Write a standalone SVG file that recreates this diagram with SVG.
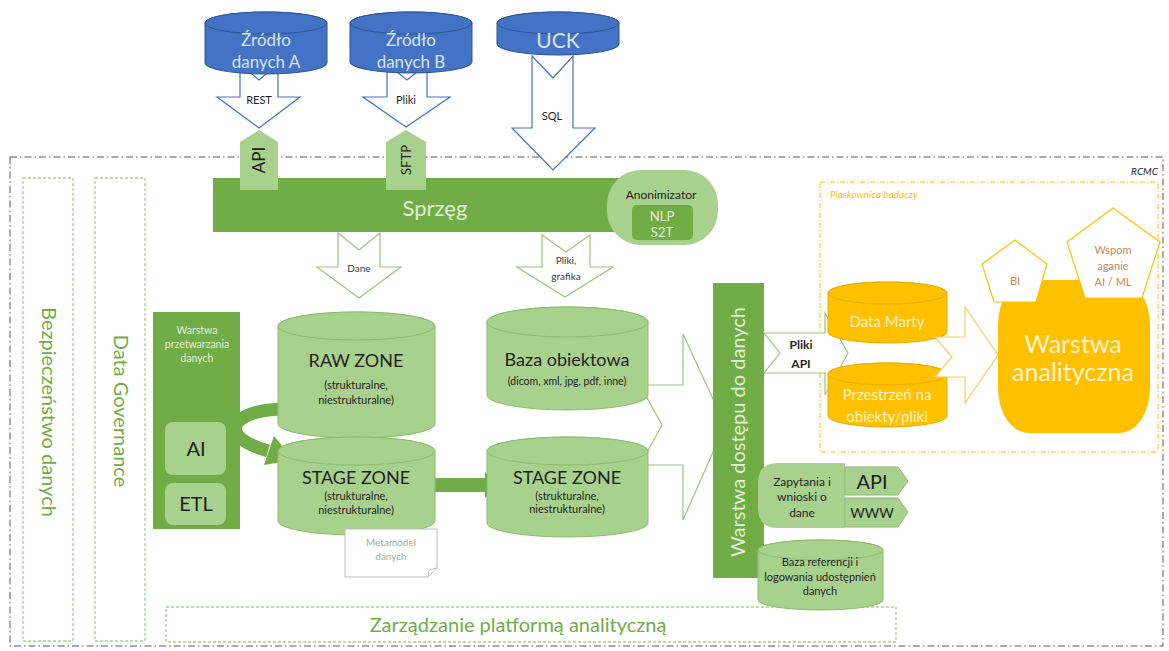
<svg xmlns="http://www.w3.org/2000/svg" width="1169" height="651" viewBox="0 0 1169 651">
<style>
text{font-family:Lato,"Open Sans","Liberation Sans",sans-serif;text-anchor:middle}
.blue{fill:#4472C4;stroke:#2F5597;stroke-width:1}
.btxt{fill:#DAE3F3;font-size:17px}
.lg{fill:#A9D18E;stroke:#8DBB6C;stroke-width:1}
.dg{fill:#70AD47}
.yel{fill:#FFC000;stroke:#E8AE00;stroke-width:1}
.ytxt{fill:#FFF2CC}
.dark{fill:#1F1F1F}
.barrow{fill:#fff;stroke:#4472C4;stroke-width:1.2}
.garrow{fill:#fff;stroke:#9CC47F;stroke-width:1.2}
.yarrow{fill:#fff;stroke:#F2CF66;stroke-width:1.2}
.gdash{fill:none;stroke:#A9D18E;stroke-width:1.3;stroke-dasharray:3 2}
.gtxt{fill:#70AD47}
.pent{fill:#fff;stroke:#FFC000;stroke-width:1.2}
.otxt{fill:#C9875A;font-size:11px}
</style>

<g id="rcmc-border">
<rect x="10" y="157" width="1153" height="489" fill="none" stroke="#595959" stroke-width="1" stroke-dasharray="7 3 1.5 3"/>
<text x="1158" y="175" style="text-anchor:end;font-size:10px;font-style:italic" fill="#262626">RCMC</text>
</g>

<g id="bezpieczenstwo">
<rect class="gdash" x="23" y="178" width="50" height="463"/>
<text class="gtxt" transform="translate(42,412) rotate(90)" style="font-size:20px">Bezpieczeństwo danych</text>
</g>
<g id="data-governance">
<rect class="gdash" x="95" y="178" width="50" height="463"/>
<text class="gtxt" transform="translate(114,411) rotate(90)" style="font-size:20px">Data Governance</text>
</g>
<g id="zarzadzanie">
<rect class="gdash" x="166" y="607" width="730" height="35"/>
<text class="gtxt" x="518" y="632" style="font-size:20px">Zarządzanie platformą analityczną</text>
</g>

<g id="piaskownica">
<rect x="820" y="182" width="338" height="270" fill="none" stroke="#FFC000" stroke-width="1" stroke-dasharray="5 2 1 2"/>
<text x="830" y="198" style="text-anchor:start;font-size:10px;font-style:italic" fill="#FFC000">Piaskownica badaczy</text>
</g>

<g id="connectors">
<polygon class="barrow" points="240,64 259,80 278,64 278,97 300,97 259,128 217,97 240,97"/>
<text class="dark" x="259" y="104" style="font-size:11px">REST</text>
<polygon class="barrow" points="387,64 407,80 427,64 427,97 450,97 406,127 363,97 387,97"/>
<text class="dark" x="406" y="104" style="font-size:11px">Pliki</text>
<polygon class="barrow" points="532,56 553,78 573,56 573,128 595,128 553,170 512,128 532,128"/>
<text class="dark" x="552" y="120" style="font-size:11px">SQL</text>
<polygon class="garrow" points="338,233 359,250 380,233 380,267 401,267 359,298 317,267 338,267"/>
<text fill="#404040" x="359" y="272" style="font-size:10px">Dane</text>
<polygon class="garrow" points="542,235 566,252 590,235 590,267 613,267 565,297 517,267 542,267"/>
<text fill="#404040" x="566" y="264" style="font-size:10px">Pliki,</text>
<text fill="#404040" x="566" y="280" style="font-size:10px">grafika</text>
<polygon class="garrow" points="640,385 683,385 683,334 725,425 683,520 683,465 640,465 662,425"/>
<polygon class="garrow" points="764,333 825,333 825,313 848,353 825,395 825,373 764,373 780,353"/>
<text fill="#262626" x="801" y="349" style="font-size:12px;font-weight:700">Pliki</text>
<text fill="#262626" x="801" y="368" style="font-size:12px;font-weight:700">API</text>
<path d="M292,409 C236,407 210,434 268,451" fill="none" stroke="#70AD47" stroke-width="13"/>
<polygon class="dg" points="294,460 264,465 274,436"/>
<rect class="dg" x="433" y="478" width="53" height="14"/>
<polygon class="dg" points="485,472 498,485 485,498"/>
</g>

<g id="src-a">
<path class="blue" d="M205,23 A61,11 0 0 1 327,23 V63 A61,11 0 0 1 205,63 Z"/>
<ellipse class="blue" cx="266" cy="23" rx="61" ry="11"/>
<text class="btxt" x="266" y="46">Źródło</text>
<text class="btxt" x="266" y="68">danych A</text>
</g>
<g id="src-b">
<path class="blue" d="M350,23 A61,11 0 0 1 472,23 V62 A61,11 0 0 1 350,62 Z"/>
<ellipse class="blue" cx="411" cy="23" rx="61" ry="11"/>
<text class="btxt" x="411" y="46">Źródło</text>
<text class="btxt" x="411" y="68">danych B</text>
</g>
<g id="uck">
<path class="blue" d="M497,23 A61,11 0 0 1 619,23 V44 A61,11 0 0 1 497,44 Z"/>
<ellipse class="blue" cx="558" cy="23" rx="61" ry="11"/>
<text class="btxt" x="558" y="48" style="font-size:21px">UCK</text>
</g>

<g id="sprzeg">
<rect class="dg" x="213" y="178" width="412" height="54"/>
<text x="435" y="216" style="font-size:22px" fill="#E2EFDA">Sprzęg</text>
</g>
<g id="api-tag">
<polygon class="lg" points="259,130 278,142 278,190 240,190 240,142" style="stroke:none"/>
<text class="dark" transform="translate(265,160) rotate(-90)" style="font-size:17px">API</text>
</g>
<g id="sftp-tag">
<polygon class="lg" points="406,130 426,142 426,190 386,190 386,142" style="stroke:none"/>
<text class="dark" transform="translate(411,160) rotate(-90)" style="font-size:13px">SFTP</text>
</g>
<g id="anonimizator">
<rect class="lg" x="607" y="170" width="111" height="75" rx="34" ry="34" style="stroke:none"/>
<text class="dark" x="661" y="199" style="font-size:12px">Anonimizator</text>
<rect class="dg" x="632" y="205" width="61" height="35" rx="5"/>
<text x="662" y="221" style="font-size:13px" fill="#E2EFDA">NLP</text>
<text x="662" y="237" style="font-size:13px" fill="#E2EFDA">S2T</text>
</g>

<g id="warstwa-przetwarzania">
<rect class="dg" x="153" y="312" width="87" height="217"/>
<text x="197" y="334" style="font-size:10.5px" fill="#E2EFDA">Warstwa</text>
<text x="197" y="348" style="font-size:10.5px" fill="#E2EFDA">przetwarzania</text>
<text x="197" y="362" style="font-size:10.5px" fill="#E2EFDA">danych</text>
</g>
<g id="ai">
<rect class="lg" x="165" y="422" width="61" height="53" rx="8" style="stroke:none"/>
<text class="dark" x="196" y="456" style="font-size:20px">AI</text>
</g>
<g id="etl">
<rect class="lg" x="165" y="483" width="61" height="42" rx="8" style="stroke:none"/>
<text class="dark" x="196" y="511" style="font-size:20px">ETL</text>
</g>

<g id="raw-zone">
<path class="lg" d="M278,326 A78.5,14 0 0 1 435,326 V424 A78.5,14 0 0 1 278,424 Z"/>
<ellipse class="lg" cx="356.5" cy="326" rx="78.5" ry="14"/>
<text class="dark" x="356" y="367" style="font-size:18px">RAW ZONE</text>
<text class="dark" x="356" y="389" style="font-size:11px">(strukturalne,</text>
<text class="dark" x="356" y="404" style="font-size:11px">niestrukturalne)</text>
</g>
<g id="stage-zone-1">
<path class="lg" d="M278,451 A78.5,14 0 0 1 435,451 V521 A78.5,14 0 0 1 278,521 Z"/>
<ellipse class="lg" cx="356.5" cy="451" rx="78.5" ry="14"/>
<text class="dark" x="356" y="484" style="font-size:18px">STAGE ZONE</text>
<text class="dark" x="356" y="500" style="font-size:11px">(strukturalne,</text>
<text class="dark" x="356" y="514" style="font-size:11px">niestrukturalne)</text>
</g>
<g id="metamodel">
<path d="M345,529 H437 V568 L428,577 H345 Z" fill="#fff" stroke="#BFBFBF" stroke-width="1"/>
<path d="M437,568 L429,570 L428,577" fill="none" stroke="#BFBFBF" stroke-width="1"/>
<text x="391" y="546" style="font-size:10px" fill="#9DB58C">Metamodel</text>
<text x="391" y="560" style="font-size:10px" fill="#9DB58C">danych</text>
</g>
<g id="baza-obiektowa">
<path class="lg" d="M487,322 A80.5,15 0 0 1 648,322 V395 A80.5,15 0 0 1 487,395 Z"/>
<ellipse class="lg" cx="567.5" cy="322" rx="80.5" ry="15"/>
<text class="dark" x="567" y="366" style="font-size:18px">Baza obiektowa</text>
<text class="dark" x="567" y="385" style="font-size:10.5px">(dicom, xml, jpg, pdf, inne)</text>
</g>
<g id="stage-zone-2">
<path class="lg" d="M487,451 A80.5,14 0 0 1 648,451 V523 A80.5,14 0 0 1 487,523 Z"/>
<ellipse class="lg" cx="567.5" cy="451" rx="80.5" ry="14"/>
<text class="dark" x="567" y="484" style="font-size:18px">STAGE ZONE</text>
<text class="dark" x="567" y="500" style="font-size:11px">(strukturalne,</text>
<text class="dark" x="567" y="513" style="font-size:11px">niestrukturalne)</text>
</g>

<g id="warstwa-dostepu">
<rect class="dg" x="713" y="283" width="51" height="295"/>
<text transform="translate(745,432) rotate(-90)" style="font-size:20px" fill="#E2EFDA">Warstwa dostępu do danych</text>
</g>

<g id="zapytania">
<path class="lg" d="M778,463 H845 V528 H778 Q758,528 758,508 V483 Q758,463 778,463 Z" style="stroke:none"/>
<text class="dark" x="802" y="486" style="font-size:12px">Zapytania i</text>
<text class="dark" x="802" y="501" style="font-size:12px">wnioski o</text>
<text class="dark" x="802" y="517" style="font-size:12px">dane</text>
</g>
<g id="api-out">
<polygon class="lg" points="845,467 898,467 908,481 898,495 845,495"/>
<text class="dark" x="872" y="489" style="font-size:20px">API</text>
</g>
<g id="www-out">
<polygon class="lg" points="845,498 898,498 908,512 898,527 845,527"/>
<text class="dark" x="872" y="518" style="font-size:14px">WWW</text>
</g>
<g id="baza-referencji">
<path class="lg" d="M758,550 A62.5,10 0 0 1 883,550 V600 A62.5,10 0 0 1 758,600 Z"/>
<ellipse class="lg" cx="820.5" cy="550" rx="62.5" ry="10"/>
<text class="dark" x="820" y="566" style="font-size:11px">Baza referencji i</text>
<text class="dark" x="820" y="581" style="font-size:11px">logowania udostępnień</text>
<text class="dark" x="820" y="595" style="font-size:11px">danych</text>
</g>

<g id="data-marty">
<path class="yel" d="M828,293 A59.5,11 0 0 1 947,293 V332 A59.5,11 0 0 1 828,332 Z"/>
<ellipse class="yel" cx="887.5" cy="293" rx="59.5" ry="11"/>
<text class="ytxt" x="887" y="327" style="font-size:15px">Data Marty</text>
</g>
<g id="przestrzen">
<path class="yel" d="M828,374 A59.5,11 0 0 1 947,374 V416 A59.5,11 0 0 1 828,416 Z"/>
<ellipse class="yel" cx="887.5" cy="374" rx="59.5" ry="11"/>
<text class="ytxt" x="887" y="400" style="font-size:15px">Przestrzeń na</text>
<text class="ytxt" x="887" y="422" style="font-size:15px">obiekty/pliki</text>
</g>
<g id="arrow-to-analityczna">
<polygon class="yarrow" points="935,337 965,337 965,307 998,355 965,403 965,377 935,377 952,357"/>
</g>
<g id="warstwa-analityczna">
<rect x="998" y="280" width="152" height="153" rx="30" ry="45" fill="#FFC000"/>
<text class="ytxt" x="1073" y="353" style="font-size:25px">Warstwa</text>
<text class="ytxt" x="1073" y="381" style="font-size:25px">analityczna</text>
</g>
<g id="bi">
<polygon class="pent" points="1015,240 1047,264 1036,302 994,302 982,264"/>
<text class="otxt" x="1015" y="285">BI</text>
</g>
<g id="wspomaganie">
<polygon class="pent" points="1113,208 1160,242 1142,298 1085,298 1067,242"/>
<text class="otxt" x="1113" y="254">Wspom</text>
<text class="otxt" x="1113" y="270">aganie</text>
<text class="otxt" x="1113" y="286">AI / ML</text>
</g>
</svg>
